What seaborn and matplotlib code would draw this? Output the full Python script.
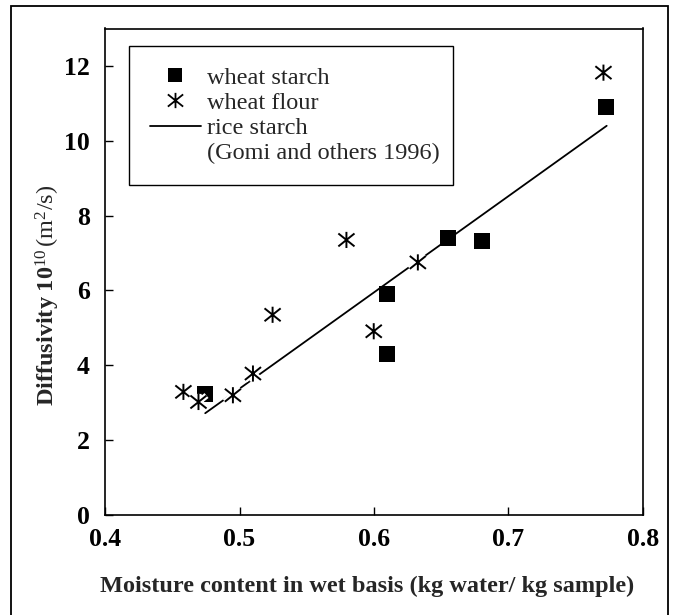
import numpy as np
import pandas as pd
import seaborn as sns
import matplotlib
matplotlib.use("Agg")
import matplotlib.pyplot as plt
from matplotlib.path import Path
from matplotlib.patches import Rectangle
from matplotlib.lines import Line2D
import matplotlib.patheffects as pe

# ---- data ----
starch_x = [0.4745, 0.6097, 0.6097, 0.6549, 0.6805, 0.7723]
starch_y = [3.23, 5.91, 4.31, 7.41, 7.33, 10.89]

flour_x = [0.4583, 0.4695, 0.4951, 0.5100, 0.5246, 0.5795, 0.5998, 0.6326, 0.7706]
flour_y = [3.29, 3.02, 3.20, 3.78, 5.35, 7.35, 4.91, 6.75, 11.82]

rice_x = [0.4745, 0.7730]
rice_y = [2.72, 10.40]

series_labels = ["wheat starch", "wheat flour", "rice starch", "(Gomi and others 1996)"]
xticks = [0.4, 0.5, 0.6, 0.7, 0.8]
xticklabels = ["0.4", "0.5", "0.6", "0.7", "0.8"]
yticks = [0, 2, 4, 6, 8, 10, 12]

# ---- style ----
sns.set_style("ticks")
plt.rcParams["font.family"] = ["Liberation Serif", "DejaVu Serif"]
plt.rcParams["mathtext.fontset"] = "custom"
plt.rcParams["mathtext.rm"] = "Liberation Serif"
plt.rcParams["mathtext.bf"] = "Liberation Serif:bold"
plt.rcParams["mathtext.it"] = "Liberation Serif:italic"

fig = plt.figure(figsize=(6.75, 6.15), dpi=100)
fig.patch.set_facecolor("white")
ax = fig.add_axes([105 / 675, 1 - 515 / 615, 538 / 675, 486.5 / 615])

starch_df = pd.DataFrame({"x": starch_x, "y": starch_y})
flour_df = pd.DataFrame({"x": flour_x, "y": flour_y})
rice_df = pd.DataFrame({"x": rice_x, "y": rice_y})

# asterisk-like marker: vertical bar plus a wide X
ast = Path(
    [(0, -1), (0, 1), (-1, -0.8), (1, 0.8), (-1, 0.8), (1, -0.8)],
    [Path.MOVETO, Path.LINETO, Path.MOVETO, Path.LINETO, Path.MOVETO, Path.LINETO],
)

sns.lineplot(data=rice_df, x="x", y="y", ax=ax, color="black", linewidth=1.3,
             zorder=2)
sns.scatterplot(data=starch_df, x="x", y="y", ax=ax, marker="s", s=120,
                color="black", linewidth=0, zorder=3)
sns.scatterplot(data=flour_df, x="x", y="y", ax=ax, marker=ast, s=135,
                color="black", edgecolor="black", linewidth=1.4, zorder=4)
ax.collections[-1].set_path_effects(
    [pe.withStroke(linewidth=4.5, foreground="white")])

ax.set_xlim(0.4, 0.8)
ax.set_ylim(0, 13)
ax.set_xticks(xticks)
ax.set_xticklabels(xticklabels)
ax.set_yticks(yticks)

for s in ax.spines.values():
    s.set_linewidth(1.2)
    s.set_color("black")

ax.tick_params(axis="both", direction="in", length=6, width=1.0,
               colors="black", labelsize=18.5, top=False, right=False)
ax.tick_params(axis="x", pad=9)
ax.tick_params(axis="y", pad=11)
for lab in ax.get_xticklabels() + ax.get_yticklabels():
    lab.set_fontweight("bold")

ax.set_xlabel("Moisture content in wet basis (kg water/ kg sample)",
              fontsize=17.5, fontweight="bold", labelpad=18)
ax.xaxis.label.set_x(0.487)
ax.set_ylabel(r"$\mathbf{Diffusivity\ 10}^{10}\,(\mathrm{m}^{2}/\mathrm{s})$",
              fontsize=17.5)
ax.yaxis.set_label_coords(-0.080, 0.452)

handles = [
    Line2D([], [], linestyle="none", marker="s", markersize=10.5,
           markerfacecolor="black", markeredgewidth=0, color="black"),
    Line2D([], [], linestyle="none", marker=ast, markersize=11,
           markeredgewidth=1.3, color="black"),
    Line2D([], [], color="black", linewidth=1.3),
    Line2D([], [], linestyle="none", color="none"),
]
leg = ax.legend(handles, series_labels, loc="upper left",
                bbox_to_anchor=(0.0446, 0.680, 0.6025, 0.284), mode="expand",
                borderaxespad=0, fancybox=False, shadow=False, frameon=True,
                edgecolor="black", framealpha=1, fontsize=17.5,
                handlelength=2.1, handletextpad=0.25, labelspacing=0.13,
                borderpad=0.85)
leg.get_frame().set_linewidth(1.0)

# outer frame of the figure
fig.patches.append(Rectangle((11 / 675, -0.02), 657 / 675, 1.02 - 6 / 615,
                             transform=fig.transFigure, fill=False,
                             edgecolor="black", linewidth=1.3))

fig.savefig("out.png", dpi=100, facecolor="white")
